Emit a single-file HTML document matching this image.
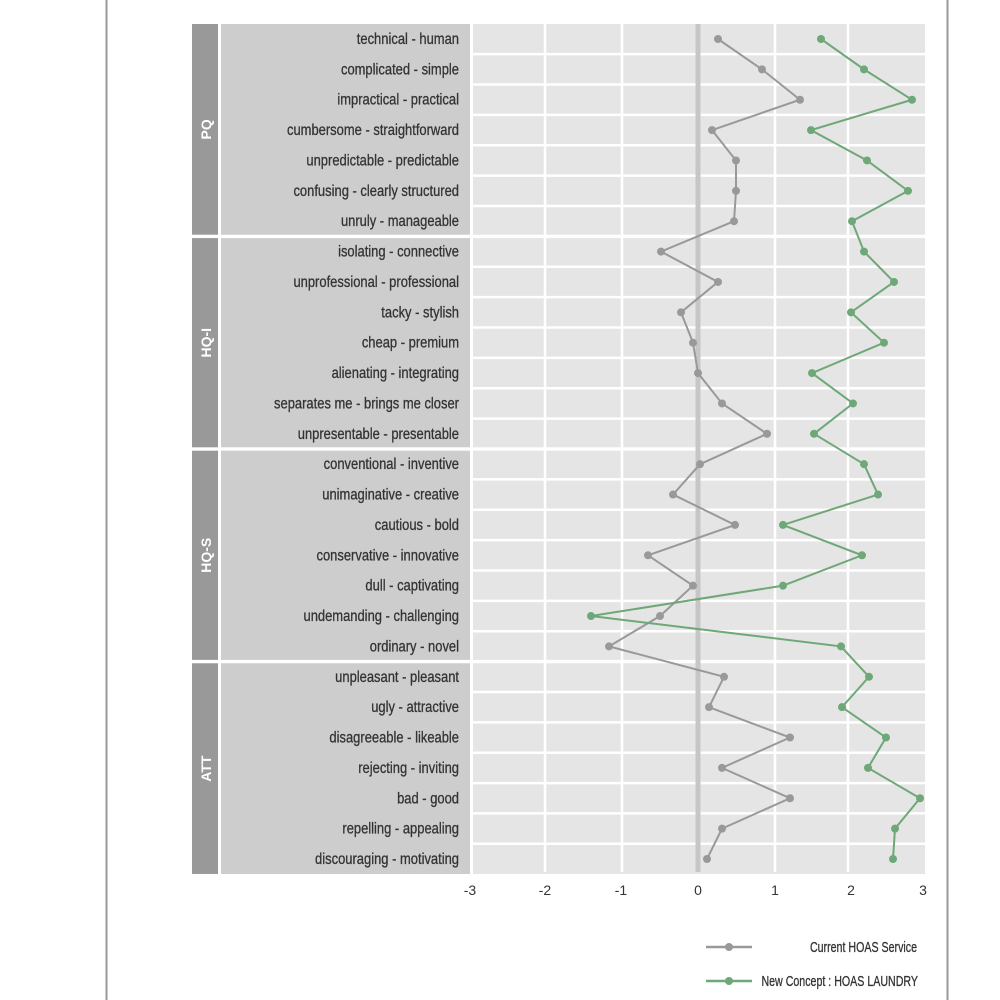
<!DOCTYPE html>
<html><head><meta charset="utf-8"><style>body{margin:0;background:#fff}svg{display:block}</style></head><body>
<svg width="1000" height="1000" xmlns="http://www.w3.org/2000/svg" font-family="'Liberation Sans',sans-serif">
<rect width="1000" height="1000" fill="#fff"/>
<line x1="106.5" y1="0" x2="106.5" y2="1000" stroke="#999" stroke-width="2"/>
<line x1="947.5" y1="0" x2="947.5" y2="1000" stroke="#999" stroke-width="2"/>
<g id="panels"></g>
<g id="fg"></g>
<g font-size="14" fill="#333" text-anchor="middle">
<text x="470" y="895">-3</text><text x="545" y="895">-2</text><text x="621" y="895">-1</text><text x="698" y="895">0</text><text x="775" y="895">1</text><text x="851" y="895">2</text><text x="923" y="895">3</text>
</g>
<line x1="706" y1="947" x2="752" y2="947" stroke="#999" stroke-width="2.5"/><circle cx="729" cy="947" r="4" fill="#999"/>
<line x1="706" y1="981" x2="752" y2="981" stroke="#6fa878" stroke-width="2.5"/><circle cx="729" cy="981" r="4" fill="#6fa878"/>
<g font-size="15" fill="#333" text-anchor="end" stroke="#333" stroke-width="0.3">
<text transform="translate(917,952) scale(0.71,1)">Current HOAS Service</text>
<text transform="translate(918,986) scale(0.71,1)">New Concept : HOAS LAUNDRY</text></g>
<script>
var labels=["technical - human","complicated - simple","impractical - practical","cumbersome - straightforward","unpredictable - predictable","confusing - clearly structured","unruly - manageable","isolating - connective","unprofessional - professional","tacky - stylish","cheap - premium","alienating - integrating","separates me - brings me closer","unpresentable - presentable","conventional - inventive","unimaginative - creative","cautious - bold","conservative - innovative","dull - captivating","undemanding - challenging","ordinary - novel","unpleasant - pleasant","ugly - attractive","disagreeable - likeable","rejecting - inviting","bad - good","repelling - appealing","discouraging - motivating"];
var g=[718,762,800,712,736,736,734,661,718,681,693,698,722,767,700,673,735,648,693,660,609,724,709,790,722,790,722,707];
var n=[821,864,912,811,867,908,852,864,894,851,884,812,853,814,864,878,783,862,783,591,841,869,842,886,868,920,895,893];
var strips=["PQ","HQ-I","HQ-S","ATT"];
var S="http://www.w3.org/2000/svg",P=document.getElementById("panels"),F=document.getElementById("fg");
function el(p,t,a,txt){var e=document.createElementNS(S,t);for(var k in a)e.setAttribute(k,a[k]);if(txt)e.textContent=txt;p.appendChild(e);return e;}
function y(i){return 39+i*30.37;}
for(var k=0;k<4;k++){var t=y(7*k)-15+(k?1.5:0),b=y(7*k+6)+15-(k<3?1.5:0);
el(P,"rect",{x:192,y:t,width:26,height:b-t,fill:"#999"});
el(P,"rect",{x:221,y:t,width:249,height:b-t,fill:"#cdcdcd"});
el(P,"rect",{x:473,y:t,width:452,height:b-t,fill:"#e5e5e5"});
var cy=(t+b)/2;el(P,"text",{x:0,y:0,transform:"translate(211,"+cy+") rotate(-90)","text-anchor":"middle","font-size":"14","font-weight":"bold",fill:"#fff"},strips[k]);
for(var j=1;j<7;j++){var yy=(y(7*k+j)+y(7*k+j-1))/2;el(P,"line",{x1:473,x2:925,y1:yy,y2:yy,stroke:"#fff","stroke-width":2.5});}}
[545,622,775,848].forEach(function(x){el(P,"line",{x1:x,x2:x,y1:24,y2:872,stroke:"#fff","stroke-width":2.5});});
el(P,"line",{x1:698,x2:698,y1:24,y2:872,stroke:"#c6c6c6","stroke-width":5});
for(var i=0;i<28;i++)el(F,"text",{transform:"translate(459,"+(y(i)+5)+") scale(0.81,1)","text-anchor":"end","font-size":"16",fill:"#333",stroke:"#333","stroke-width":"0.3"},labels[i]);
function series(a,c){el(F,"polyline",{points:a.map(function(x,i){return x+","+y(i)}).join(" "),fill:"none",stroke:c,"stroke-width":2});a.forEach(function(x,i){el(F,"circle",{cx:x,cy:y(i),r:4,fill:c});});}
series(g,"#999");series(n,"#6fa878");
</script>
</svg>
</body></html>
